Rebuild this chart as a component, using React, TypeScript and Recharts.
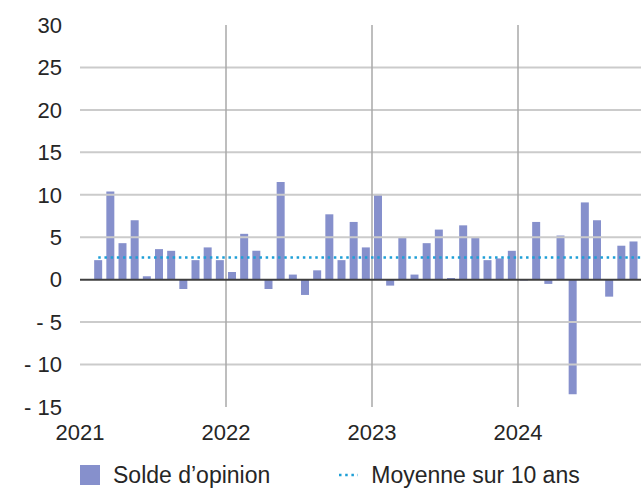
import { ComposedChart, Bar, Line, XAxis, YAxis, ReferenceLine } from 'recharts';

// Solde d'opinion, one value per month (Jan 2021 has no bar)
const solde2021 = [null, 2.3, 10.4, 4.3, 7.0, 0.4, 3.6, 3.4, -1.1, 2.3, 3.8, 2.3];
const solde2022 = [0.9, 5.4, 3.4, -1.1, 11.5, 0.6, -1.8, 1.1, 7.7, 2.3, 6.8, 3.8];
const solde2023 = [10.1, -0.7, 4.9, 0.6, 4.3, 5.9, 0.2, 6.4, 4.9, 2.3, 2.5, 3.4];
const solde2024 = [-0.1, 6.8, -0.5, 5.2, -13.5, 9.1, 7.0, -2.0, 4.0, 4.5, null, null];

// Moyenne sur 10 ans (constant level)
const moyenne10ans = 2.6;

const years = [2021, 2022, 2023, 2024];
const yTicks = [-15, -10, -5, 0, 5, 10, 15, 20, 25, 30];
const gridValues = [25, 20, 15, 10, 5, -5, -10];
const yearTicks = [0, 12, 24, 36];

const allSolde = [...solde2021, ...solde2022, ...solde2023, ...solde2024];
const data = allSolde.map((v, i) => ({
  t: i + 0.5,
  solde: v,
  moyenne: i === 0 ? null : moyenne10ans,
}));

const FONT = '"Liberation Sans", Arial, sans-serif';
const TEXT = '#262626';
const BAR = '#8690cc';
const AVG = '#1e9fd6';

const fmtY = (v: number) => (v < 0 ? `- ${Math.abs(v)}` : `${v}`);

export default function App() {
  return (
    <div
      style={{
        position: 'absolute',
        left: 0,
        top: 0,
        width: 641,
        height: 489,
        overflow: 'hidden',
        background: '#fff',
        fontFamily: FONT,
      }}
    >
      <ComposedChart
        width={664}
        height={460}
        data={data}
        margin={{ top: 25, right: 0, bottom: 0, left: 0 }}
      >
        <XAxis
          type="number"
          dataKey="t"
          domain={[0, 48]}
          ticks={yearTicks}
          interval={0}
          tickFormatter={(t: number) => String(years[t / 12])}
          axisLine={false}
          tickLine={false}
          tickMargin={11}
          height={53}
          tick={{ fill: TEXT, fontSize: 22, fontFamily: FONT }}
        />
        <YAxis
          type="number"
          domain={[-15, 30]}
          ticks={yTicks}
          interval={0}
          tickFormatter={fmtY}
          axisLine={false}
          tickLine={false}
          tickMargin={12}
          width={80}
          tick={{ fill: TEXT, fontSize: 22, fontFamily: FONT }}
        />
        {gridValues.map((g) => (
          <ReferenceLine key={`g${g}`} y={g} stroke="#cbcbcb" strokeWidth={2} />
        ))}
        {yearTicks.slice(1).map((x) => (
          <ReferenceLine key={`x${x}`} x={x} stroke="#a8a8a8" strokeWidth={1.5} />
        ))}
        <Bar dataKey="solde" fill={BAR} barSize={8} isAnimationActive={false} />
        <ReferenceLine y={0} stroke="#3f3f3f" strokeWidth={2} />
        <Line
          dataKey="moyenne"
          stroke={AVG}
          strokeWidth={2.5}
          strokeDasharray="2.5 3.7"
          dot={false}
          activeDot={false}
          isAnimationActive={false}
        />
      </ComposedChart>

      {/* legend */}
      <div
        style={{
          position: 'absolute',
          top: 464,
          left: 80,
          height: 22,
          display: 'flex',
          alignItems: 'center',
          fontSize: 23,
          color: TEXT,
          whiteSpace: 'nowrap',
        }}
      >
        <span style={{ width: 20, height: 20, background: BAR, display: 'inline-block' }} />
        <span style={{ marginLeft: 13 }}>Solde d’opinion</span>
        <svg width={20} height={6} style={{ marginLeft: 68 }}>
          <line x1={1} y1={3} x2={20} y2={3} stroke={AVG} strokeWidth={2.5} strokeDasharray="2.5 3.7" />
        </svg>
        <span style={{ marginLeft: 13 }}>Moyenne sur 10 ans</span>
      </div>
    </div>
  );
}
